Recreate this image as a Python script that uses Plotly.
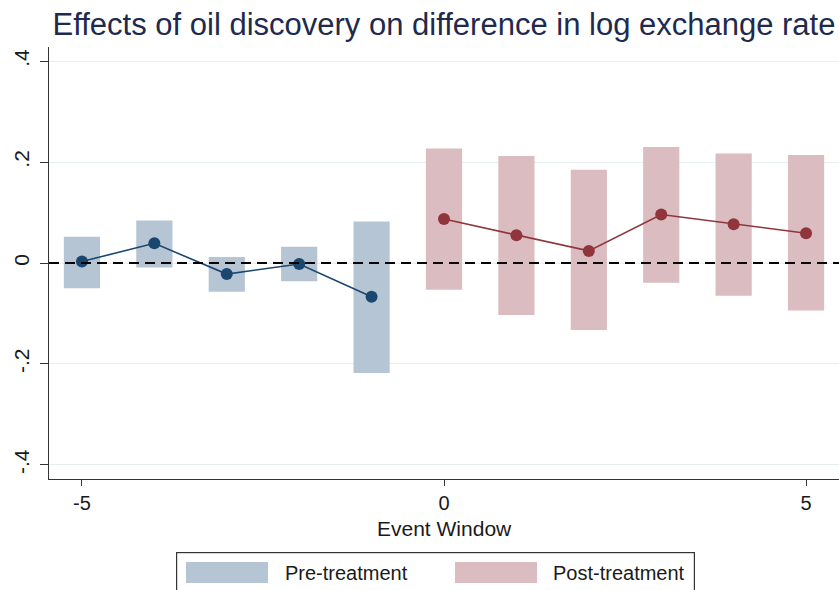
import plotly.graph_objects as go

# ---- data ----
pre_x = [-5, -4, -3, -2, -1]
pre_coef = [0.003, 0.039, -0.022, -0.002, -0.067]
pre_lo = [-0.050, -0.009, -0.057, -0.036, -0.218]
pre_hi = [0.052, 0.084, 0.012, 0.032, 0.082]

post_x = [0, 1, 2, 3, 4, 5]
post_coef = [0.087, 0.055, 0.024, 0.096, 0.077, 0.059]
post_lo = [-0.053, -0.103, -0.133, -0.039, -0.065, -0.094]
post_hi = [0.227, 0.212, 0.185, 0.230, 0.217, 0.214]

x_ticks = [-5, 0, 5]
y_ticks = [-0.4, -0.2, 0, 0.2, 0.4]
y_ticklabels = ["-.4", "-.2", "0", ".2", ".4"]

NAVY = "#1a476f"
MAROON = "#90353b"
PRE_FILL = "#b6c5d3"
POST_FILL = "#dbbcc0"
FONT = "Liberation Sans, Arial, sans-serif"
TXT = "#1a1a1a"

W, H = 839, 590
ML, MR, MT, MB = 49, 0, 47, 111
PW, PH = W - ML - MR, H - MT - MB

fig = go.Figure()

fig.add_trace(go.Bar(
    x=pre_x, base=pre_lo, y=[h - l for h, l in zip(pre_hi, pre_lo)],
    width=0.5, marker=dict(color=PRE_FILL, line=dict(width=0)),
    name="Pre-treatment", showlegend=False, hoverinfo="skip"))
fig.add_trace(go.Bar(
    x=post_x, base=post_lo, y=[h - l for h, l in zip(post_hi, post_lo)],
    width=0.5, marker=dict(color=POST_FILL, line=dict(width=0)),
    name="Post-treatment", showlegend=False, hoverinfo="skip"))

fig.add_trace(go.Scatter(
    x=pre_x, y=pre_coef, mode="lines+markers",
    line=dict(color=NAVY, width=1.6), marker=dict(color=NAVY, size=12),
    showlegend=False))
fig.add_trace(go.Scatter(
    x=post_x, y=post_coef, mode="lines+markers",
    line=dict(color=MAROON, width=1.6), marker=dict(color=MAROON, size=12),
    showlegend=False))

# ---- helpers for the custom Stata-style legend ----
def px2x(px):
    return (px - ML) / PW

def py2y(py):
    return (H - MB - py) / PH

BOX_L, BOX_R, BOX_T = 176, 695, 552
BC = "#333333"

annotations = [
    # legend frame (bottom edge falls outside the picture, as in the reference)
    dict(text=" ", xref="paper", yref="paper",
         x=px2x(BOX_L), y=py2y(BOX_T), xanchor="left", yanchor="top",
         width=BOX_R - BOX_L - 2, height=70, showarrow=False,
         bordercolor=BC, borderwidth=1.2, borderpad=0,
         font=dict(family=FONT, size=10, color=TXT)),
    dict(text="Pre-treatment", xref="paper", yref="paper",
         x=px2x(283), y=py2y(573), xanchor="left", yanchor="middle",
         showarrow=False, font=dict(family=FONT, size=20, color=TXT)),
    dict(text="Post-treatment", xref="paper", yref="paper",
         x=px2x(551), y=py2y(573), xanchor="left", yanchor="middle",
         showarrow=False, font=dict(family=FONT, size=20, color=TXT)),
    dict(text="Event Window", xref="paper", yref="paper",
         x=px2x(444), y=py2y(528), xanchor="center", yanchor="middle",
         showarrow=False, font=dict(family=FONT, size=21, color=TXT)),
]

fig.update_layout(
    width=W, height=H,
    margin=dict(l=ML, r=MR, t=MT, b=MB),
    paper_bgcolor="white", plot_bgcolor="white",
    barmode="overlay",
    title=dict(text="Effects of oil discovery on difference in log exchange rate",
               x=px2x(444), xref="paper", xanchor="center",
               y=1 - 24 / H, yref="container", yanchor="middle",
               font=dict(family=FONT, size=31, color="#1e2a4e")),
    font=dict(family=FONT, size=21, color=TXT),
    annotations=annotations,
    showlegend=False,
)

# zero reference line
fig.add_shape(type="line", xref="paper", yref="y", x0=0, x1=1, y0=0, y1=0,
              line=dict(color="black", width=1.8, dash="10px,6px"))

# legend swatches
fig.add_shape(type="rect", xref="paper", yref="paper",
              x0=px2x(186), x1=px2x(268), y0=py2y(583), y1=py2y(562),
              line=dict(width=0), fillcolor=PRE_FILL)
fig.add_shape(type="rect", xref="paper", yref="paper",
              x0=px2x(455), x1=px2x(537), y0=py2y(583), y1=py2y(562),
              line=dict(width=0), fillcolor=POST_FILL)

fig.update_xaxes(
    range=[-5.455, 5.455], tickvals=x_ticks, ticktext=[str(v) for v in x_ticks],
    ticks="outside", ticklen=6, tickwidth=1, tickcolor="#333333",
    showline=True, linecolor="#333333", linewidth=1.2,
    showgrid=False, zeroline=False,
    tickfont=dict(family=FONT, size=20, color=TXT))

fig.update_yaxes(
    range=[-0.428, 0.428], tickvals=y_ticks, ticktext=y_ticklabels,
    tickangle=-90, ticklabelstandoff=3,
    ticks="outside", ticklen=8, tickwidth=1, tickcolor="#333333",
    showline=True, linecolor="#333333", linewidth=1.2,
    showgrid=True, gridcolor="#e6efef", gridwidth=1, zeroline=False,
    tickfont=dict(family=FONT, size=21, color=TXT))

fig.write_html("out.html")
